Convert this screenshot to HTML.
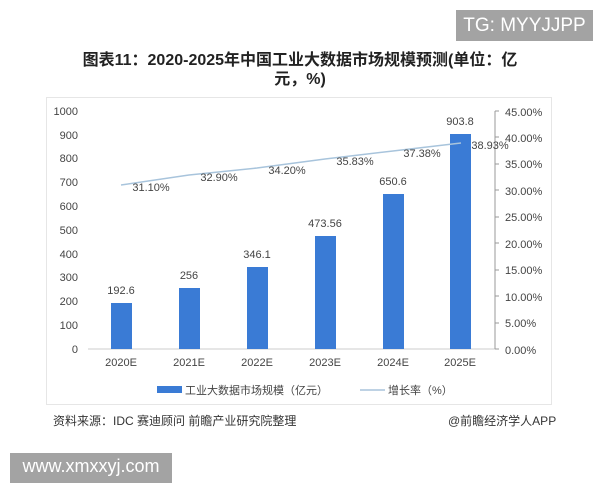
<!DOCTYPE html><html><head><meta charset="utf-8"><style>
body{margin:0;width:600px;height:480px;background:#fff;position:relative;overflow:hidden;font-family:"Liberation Sans","Noto Sans CJK SC",sans-serif}
.a{position:absolute}
</style></head><body>
<div class="a" style="left:456px;top:10px;width:137px;height:31px;background:#a3a3a3;color:#fff;font-size:19px;line-height:31px;text-align:center">TG: MYYJJPP</div>
<div class="a" style="left:60px;top:51px;width:480px;text-align:center;font-size:16px;font-weight:bold;color:#222;line-height:19px">图表11：2020-2025年中国工业大数据市场规模预测(单位：亿<br>元，%)</div>
<div class="a" style="left:46px;top:97px;width:506px;height:308px;border:1px solid #e6e6e6;box-sizing:border-box"></div>
<svg class="a" style="left:0;top:0" width="600" height="480" font-family="Liberation Sans, sans-serif" font-size="11" fill="#444">
<line x1="88" y1="349" x2="495" y2="349" stroke="#ccc"/>
<line x1="495" y1="111" x2="495" y2="349" stroke="#999"/>
<g text-anchor="end">
<text x="78" y="115">1000</text><text x="78" y="139">900</text><text x="78" y="162">800</text><text x="78" y="186">700</text><text x="78" y="210">600</text><text x="78" y="234">500</text><text x="78" y="258">400</text><text x="78" y="281">300</text><text x="78" y="305">200</text><text x="78" y="329">100</text><text x="78" y="353">0</text>
</g>
<g stroke="#999"><line x1="495" y1="111" x2="499" y2="111"/><line x1="495" y1="137" x2="499" y2="137"/><line x1="495" y1="164" x2="499" y2="164"/><line x1="495" y1="190" x2="499" y2="190"/><line x1="495" y1="217" x2="499" y2="217"/><line x1="495" y1="243" x2="499" y2="243"/><line x1="495" y1="270" x2="499" y2="270"/><line x1="495" y1="296" x2="499" y2="296"/><line x1="495" y1="323" x2="499" y2="323"/><line x1="495" y1="349" x2="499" y2="349"/></g>
<g>
<text x="505" y="116">45.00%</text><text x="505" y="142">40.00%</text><text x="505" y="168">35.00%</text><text x="505" y="195">30.00%</text><text x="505" y="221">25.00%</text><text x="505" y="248">20.00%</text><text x="505" y="274">15.00%</text><text x="505" y="301">10.00%</text><text x="505" y="327">5.00%</text><text x="505" y="354">0.00%</text>
</g>
<g fill="#3a7bd5">
<rect x="111" y="303" width="21" height="46"/><rect x="179" y="288" width="21" height="61"/><rect x="247" y="267" width="21" height="82"/><rect x="315" y="236" width="21" height="113"/><rect x="383" y="194" width="21" height="155"/><rect x="450" y="134" width="21" height="215"/>
</g>
<g text-anchor="middle">
<text x="121" y="294">192.6</text><text x="189" y="279">256</text><text x="257" y="258">346.1</text><text x="325" y="227">473.56</text><text x="393" y="185">650.6</text><text x="460" y="125">903.8</text>
<text x="121" y="366">2020E</text><text x="189" y="366">2021E</text><text x="257" y="366">2022E</text><text x="325" y="366">2023E</text><text x="393" y="366">2024E</text><text x="460" y="366">2025E</text>
</g>
<polyline points="121,185 189,175 257,168 325,159 393,151 461,143" fill="none" stroke="#a8c4dc" stroke-width="1.5"/>
<g text-anchor="middle">
<text x="151" y="191">31.10%</text><text x="219" y="181">32.90%</text><text x="287" y="174">34.20%</text><text x="355" y="165">35.83%</text><text x="422" y="157">37.38%</text><text x="490" y="149">38.93%</text>
</g>
<rect x="157" y="386" width="25" height="7" fill="#3a7bd5"/>
<text x="185" y="394" font-family="Liberation Sans, Noto Sans CJK SC, sans-serif">工业大数据市场规模（亿元）</text>
<line x1="360" y1="390" x2="385" y2="390" stroke="#a8c4dc" stroke-width="1.5"/>
<text x="388" y="394" font-family="Liberation Sans, Noto Sans CJK SC, sans-serif">增长率（%）</text>
</svg>
<div class="a" style="left:53px;top:412px;font-size:12px;color:#333">资料来源：IDC 赛迪顾问 前瞻产业研究院整理</div>
<div class="a" style="left:448px;top:412px;font-size:12px;color:#333">@前瞻经济学人APP</div>
<div class="a" style="left:10px;top:453px;width:162px;height:30px;background:#a3a3a3;color:#fff;font-size:18px;line-height:27px;text-align:center">www.xmxxyj.com</div>
</body></html>
